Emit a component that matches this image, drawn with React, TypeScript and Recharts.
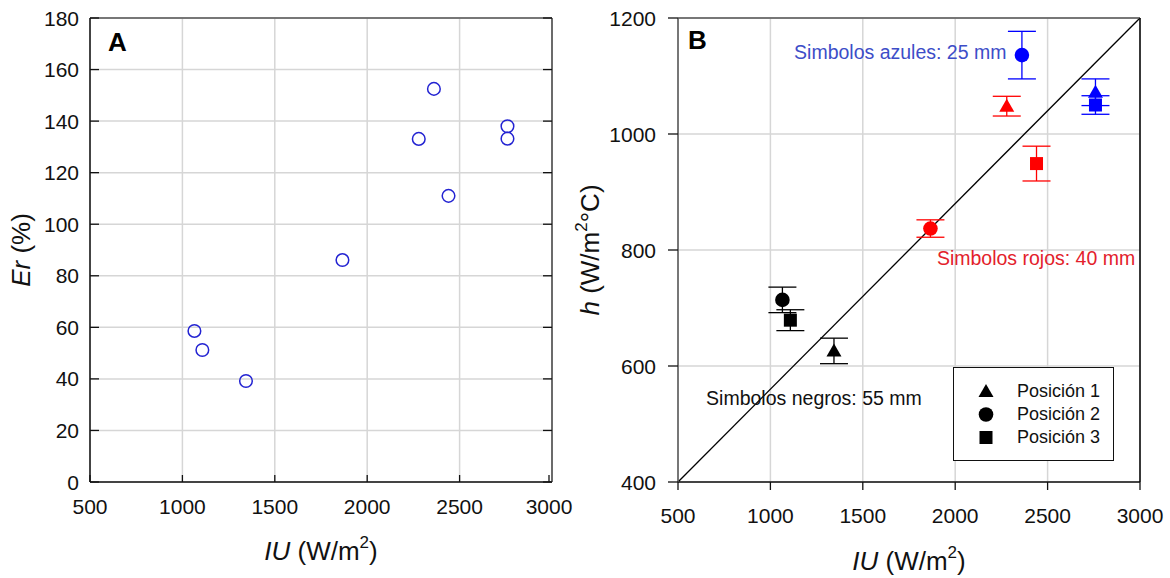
import {
  ScatterChart,
  Scatter,
  XAxis,
  YAxis,
  CartesianGrid,
  ErrorBar,
  ReferenceLine,
  ReferenceDot,
  Legend,
  Label,
} from "recharts";

const FONT = "'Liberation Sans', Arial, Helvetica, sans-serif";

// ticks
const IU_TICKS = [500, 1000, 1500, 2000, 2500, 3000];
const ER_TICKS = [0, 20, 40, 60, 80, 100, 120, 140, 160, 180];
const H_TICKS = [400, 600, 800, 1000, 1200];

// panel A
const IU_A = [1065, 1108, 1344, 1866, 2279, 2361, 2440, 2759, 2759];
const ER_A = [58.6, 51.2, 39.2, 86.1, 133.1, 152.5, 111, 138, 133.2];

// panel B: one list per probe diameter, index = position 1..3
const POSITIONS = ["Posición 1", "Posición 2", "Posición 3"];
const IU_55 = [1344, 1065, 1108];
const H_55 = [626, 714, 679];
const ERR_55 = [22, 22, 18];
const IU_40 = [2279, 1866, 2440];
const H_40 = [1048, 837, 949];
const ERR_40 = [17, 15, 30];
const IU_25 = [2759, 2361, 2759];
const H_25 = [1072, 1136, 1050];
const ERR_25 = [23, 41, 16];

const NOTES = [
  { text: "Simbolos azules: 25 mm", iu: 1128, h: 1142, color: "#3d4dc8" },
  { text: "Simbolos rojos: 40 mm", iu: 1901, h: 786, color: "#e3212b" },
  { text: "Simbolos negros: 55 mm", iu: 652, h: 544, color: "#111" },
];

const dataA = IU_A.map((iu, i) => ({ iu, er: ER_A[i] }));
const toRows = (iu: number[], h: number[], err: number[]) =>
  iu.map((v, i) => ({ iu: v, h: h[i], err: err[i], pos: i }));
const SERIES_B = [
  { name: "55 mm", color: "#000000", rows: toRows(IU_55, H_55, ERR_55) },
  { name: "40 mm", color: "#ff0000", rows: toRows(IU_40, H_40, ERR_40) },
  { name: "25 mm", color: "#0000ff", rows: toRows(IU_25, H_25, ERR_25) },
];

function MarkerShape({ kind, cx, cy, fill }: { kind: number; cx: number; cy: number; fill: string }) {
  if (kind === 0) {
    return <polygon points={`${cx},${cy - 7.5} ${cx + 7.5},${cy + 5.5} ${cx - 7.5},${cy + 5.5}`} fill={fill} />;
  }
  if (kind === 1) return <circle cx={cx} cy={cy} r={7.3} fill={fill} />;
  return <rect x={cx - 6.5} y={cy - 6.5} width={13} height={13} fill={fill} />;
}

const makeTick =
  (o: { dx: number; dy: number; lx?: number; ly?: number; anchor?: string }) =>
  (props: any) => {
    const { x, y, payload } = props;
    return (
      <g>
        {(o.dx !== 0 || o.dy !== 0) && (
          <line x1={x} y1={y} x2={x + o.dx} y2={y + o.dy} stroke="#111" strokeWidth={1.3} />
        )}
        {o.lx !== undefined && (
          <text x={x + o.lx} y={y + (o.ly ?? 0)} textAnchor={o.anchor} fontSize={21} fontFamily={FONT} fill="#111">
            {payload.value}
          </text>
        )}
      </g>
    );
  };

function XTitle({ viewBox, dy }: any) {
  const cx = viewBox.x + viewBox.width / 2;
  return (
    <text x={cx} y={viewBox.y + dy} textAnchor="middle" fontSize={26} fontFamily={FONT} fill="#111">
      <tspan fontStyle="italic">IU</tspan>
      <tspan> (W/m</tspan>
      <tspan fontSize={17} dy={-12}>2</tspan>
      <tspan dy={12}>)</tspan>
    </text>
  );
}

function PanelLetter({ viewBox, letter, dx, dy }: any) {
  return (
    <text x={viewBox.x + dx} y={viewBox.y + dy} fontSize={26} fontWeight="bold" fontFamily={FONT} fill="#000">
      {letter}
    </text>
  );
}

function PositionLegend() {
  return (
    <div
      style={{
        width: 161,
        height: 94,
        boxSizing: "border-box",
        border: "1.5px solid #111",
        background: "#fff",
        paddingTop: 12,
        fontFamily: FONT,
        fontSize: 18,
        color: "#111",
      }}
    >
      {POSITIONS.map((p, i) => (
        <div key={p} style={{ display: "flex", alignItems: "center", height: 23 }}>
          <svg width={63} height={23}>
            <MarkerShape kind={i} cx={32} cy={11.5} fill="#000" />
          </svg>
          <span>{p}</span>
        </div>
      ))}
    </div>
  );
}

function PanelA() {
  return (
    <ScatterChart width={565} height={578} margin={{ top: 17, right: 12, bottom: 0, left: 0 }}>
      <CartesianGrid stroke="#d6d6d6" strokeWidth={1.5} />
      <XAxis
        dataKey="iu"
        type="number"
        domain={[500, 3000]}
        ticks={IU_TICKS}
        height={96}
        tickSize={0}
        tickMargin={0}
        tickLine={false}
        axisLine={{ stroke: "#111", strokeWidth: 1.5 }}
        tick={makeTick({ dx: 0, dy: -7, lx: 0, ly: 32, anchor: "middle" })}
      >
        <Label content={(p: any) => <XTitle {...p} dy={78} />} />
      </XAxis>
      <XAxis
        xAxisId="top"
        orientation="top"
        type="number"
        domain={[500, 3000]}
        ticks={IU_TICKS}
        height={1}
        tickSize={0}
        tickMargin={0}
        tickLine={false}
        allowDataOverflow
        axisLine={{ stroke: "#555", strokeWidth: 1.5 }}
        tick={makeTick({ dx: 0, dy: 7 })}
      >
        <Label content={(p: any) => <PanelLetter {...p} letter="A" dx={18} dy={34} />} />
      </XAxis>
      <YAxis
        dataKey="er"
        type="number"
        domain={[0, 180]}
        ticks={ER_TICKS}
        width={90}
        tickSize={0}
        tickMargin={0}
        tickLine={false}
        axisLine={{ stroke: "#111", strokeWidth: 1.5 }}
        tick={makeTick({ dx: 9, dy: 0, lx: -11, ly: 7.5, anchor: "end" })}
      >
        <Label
          content={() => (
            <text
              transform="translate(30,250) rotate(-90)"
              textAnchor="middle"
              fontSize={26}
              fontFamily={FONT}
              fill="#111"
            >
              <tspan fontStyle="italic">Er</tspan>
              <tspan> (%)</tspan>
            </text>
          )}
        />
      </YAxis>
      <YAxis
        yAxisId="right"
        orientation="right"
        type="number"
        domain={[0, 180]}
        ticks={ER_TICKS}
        width={1}
        tickSize={0}
        tickMargin={0}
        tickLine={false}
        allowDataOverflow
        axisLine={{ stroke: "#444", strokeWidth: 1.5 }}
        tick={makeTick({ dx: -9, dy: 0 })}
      />
      <Scatter
        data={dataA}
        isAnimationActive={false}
        shape={(p: any) => <circle cx={p.cx} cy={p.cy} r={6.3} fill="none" stroke="#2323d2" strokeWidth={1.5} />}
      />
    </ScatterChart>
  );
}

function PanelB() {
  return (
    <ScatterChart width={605} height={578} margin={{ top: 17, right: 29, bottom: 0, left: 0 }}>
      <CartesianGrid stroke="#d6d6d6" strokeWidth={1.5} />
      <XAxis
        dataKey="iu"
        type="number"
        domain={[500, 3000]}
        ticks={IU_TICKS}
        height={96}
        tickSize={0}
        tickMargin={0}
        tickLine={false}
        axisLine={{ stroke: "#111", strokeWidth: 1.5 }}
        tick={makeTick({ dx: 0, dy: 8, lx: 0, ly: 41, anchor: "middle" })}
      >
        <Label content={(p: any) => <XTitle {...p} dy={88} />} />
      </XAxis>
      <XAxis
        xAxisId="top"
        orientation="top"
        type="number"
        domain={[500, 3000]}
        ticks={IU_TICKS}
        height={1}
        tickSize={0}
        tickMargin={0}
        tickLine={false}
        allowDataOverflow
        axisLine={{ stroke: "#555", strokeWidth: 1.5 }}
        tick={makeTick({ dx: 0, dy: 0 })}
      >
        <Label content={(p: any) => <PanelLetter {...p} letter="B" dx={10} dy={32} />} />
      </XAxis>
      <YAxis
        dataKey="h"
        type="number"
        domain={[400, 1200]}
        ticks={H_TICKS}
        width={113}
        tickSize={0}
        tickMargin={0}
        tickLine={false}
        axisLine={{ stroke: "#555", strokeWidth: 1.5 }}
        tick={makeTick({ dx: -10, dy: 0, lx: -22, ly: 8, anchor: "end" })}
      >
        <Label
          content={() => (
            <text
              transform="translate(34,250) rotate(-90)"
              textAnchor="middle"
              fontSize={26}
              fontFamily={FONT}
              fill="#111"
            >
              <tspan fontStyle="italic">h</tspan>
              <tspan> (W/m</tspan>
              <tspan fontSize={17} dy={-12}>2</tspan>
              <tspan dy={12}>°C)</tspan>
            </text>
          )}
        />
      </YAxis>
      <YAxis
        yAxisId="right"
        orientation="right"
        type="number"
        domain={[400, 1200]}
        ticks={H_TICKS}
        width={1}
        tickSize={0}
        tickMargin={0}
        tickLine={false}
        allowDataOverflow
        axisLine={{ stroke: "#000", strokeWidth: 1.5 }}
        tick={makeTick({ dx: 0, dy: 0 })}
      />
      <ReferenceLine
        segment={[
          { x: 500, y: 400 },
          { x: 3000, y: 1200 },
        ]}
        stroke="#000"
        strokeWidth={1.3}
      />
      {NOTES.map((n) => (
        <ReferenceDot
          key={n.text}
          x={n.iu}
          y={n.h}
          r={0}
          fill="none"
          stroke="none"
          label={{
            content: (p: any) => (
              <text
                x={p.viewBox?.x ?? 0}
                y={(p.viewBox?.y ?? 0) + 7}
                fontSize={19.5}
                fontFamily={FONT}
                fill={n.color}
              >
                {n.text}
              </text>
            ),
          }}
        />
      ))}
      {SERIES_B.map((s) => (
        <Scatter
          key={s.name}
          name={s.name}
          data={s.rows}
          isAnimationActive={false}
          shape={(p: any) => <MarkerShape kind={p.payload.pos} cx={p.cx} cy={p.cy} fill={s.color} />}
        >
          <ErrorBar dataKey="err" direction="y" width={14} stroke={s.color} strokeWidth={1.3} />
        </Scatter>
      ))}
      <Legend
        layout="horizontal"
        verticalAlign="middle"
        align="center"
        content={() => <PositionLegend />}
        wrapperStyle={{ left: 388, top: 367, width: 161, height: 94 }}
      />
    </ScatterChart>
  );
}

export default function App() {
  return (
    <div style={{ position: "absolute", left: 0, top: 0, width: 1170, height: 578, background: "#fff", display: "flex" }}>
      <style>{".recharts-surface{overflow:visible}"}</style>
      <PanelA />
      <PanelB />
    </div>
  );
}
